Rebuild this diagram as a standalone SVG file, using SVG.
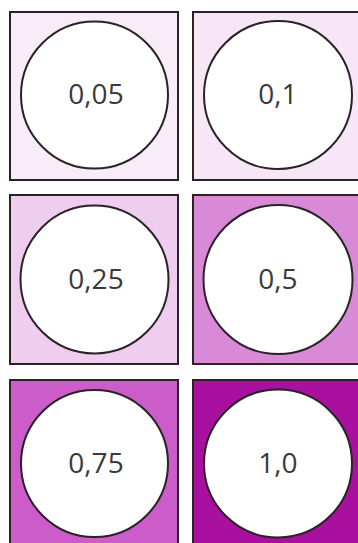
<svg xmlns="http://www.w3.org/2000/svg" width="358" height="543" viewBox="0 0 358 543">
<style>
.box{stroke:#2a2228;stroke-width:2}
.c{fill:#ffffff;stroke:#2a2228;stroke-width:2}
.t{font-family:"Open Sans","DejaVu Sans",sans-serif;font-size:28px;fill:#3a3a3a;text-anchor:middle}
</style>
<rect width="358" height="543" fill="#ffffff"/>
<g id="n005"><rect class="box" x="10" y="12" width="168" height="168" fill="#f7ecf7"/><circle class="c" cx="94.5" cy="95" r="73.5"/><text class="t" x="96" y="104">0,05</text></g>
<g id="n01"><rect class="box" x="193" y="12" width="175" height="168" fill="#f6e6f6"/><circle class="c" cx="278" cy="95" r="74"/><text class="t" x="278" y="104">0,1</text></g>
<g id="n025"><rect class="box" x="10" y="195" width="168" height="169" fill="#efcdee"/><circle class="c" cx="94.5" cy="279.5" r="74"/><text class="t" x="96" y="289">0,25</text></g>
<g id="n05"><rect class="box" x="193" y="195" width="175" height="169" fill="#d98ad7"/><circle class="c" cx="278" cy="279.5" r="74.5"/><text class="t" x="278" y="289">0,5</text></g>
<g id="n075"><rect class="box" x="10" y="380" width="168" height="180" fill="#cc5cc9"/><circle class="c" cx="94.5" cy="463.5" r="73.5"/><text class="t" x="96" y="473">0,75</text></g>
<g id="n10"><rect class="box" x="193" y="380" width="175" height="180" fill="#a9109f"/><circle class="c" cx="278" cy="463.5" r="74"/><text class="t" x="278" y="473">1,0</text></g>
<g id="connectors"></g>
</svg>
